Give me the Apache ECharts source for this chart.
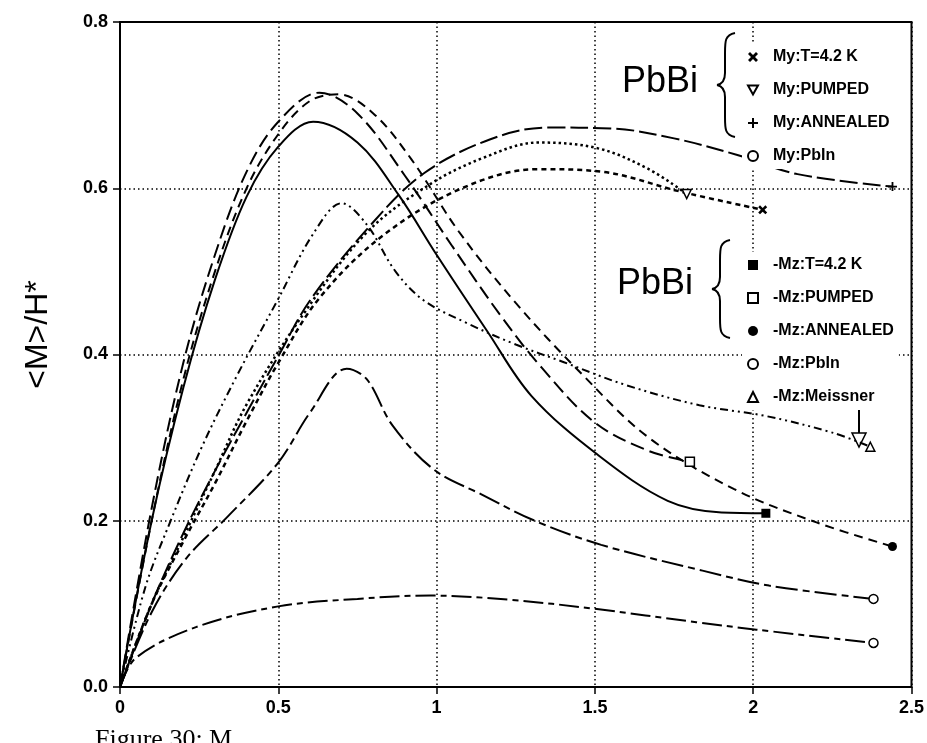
<!DOCTYPE html>
<html>
<head>
<meta charset="utf-8">
<title>PbBi magnetization</title>
<script src="https://cdn.jsdelivr.net/npm/echarts@6/dist/echarts.min.js"></script>
<style>
    html, body { margin: 0; padding: 0; background: #fff; }
    #main { width: 927px; height: 743px; }
</style>
</head>
<body>
<div id="main"></div>
<script>
    // tick labels
    var xTickLabels = {'0': '0', '0.5': '0.5', '1': '1', '1.5': '1.5', '2': '2', '2.5': '2.5'};
    var yTickLabels = {'0': '0.0', '0.2': '0.2', '0.4': '0.4', '0.6': '0.6', '0.8': '0.8'};

    // My curves
    var myT42 = [[0,0],[0.1,0.1],[0.2,0.175],[0.3,0.245],[0.4,0.32],[0.5,0.39],[0.63,0.468],[0.83,0.543],[1.08,0.6],[1.32,0.623],[1.52,0.62],[1.77,0.596],[2.03,0.574]];
    var myPumped = [[0,0],[0.1,0.1],[0.2,0.18],[0.3,0.26],[0.4,0.34],[0.58,0.449],[0.78,0.547],[0.98,0.605],[1.15,0.637],[1.32,0.655],[1.51,0.648],[1.67,0.623],[1.79,0.593]];
    var myAnnealed = [[0,0],[0.1,0.1],[0.2,0.185],[0.3,0.26],[0.4,0.33],[0.5,0.398],[0.6,0.465],[0.79,0.555],[0.96,0.618],[1.17,0.659],[1.35,0.673],[1.55,0.672],[1.75,0.66],[1.95,0.64],[2.14,0.617],[2.44,0.602]];
    var myPbIn = [[0,0],[0.05,0.035],[0.24,0.072],[0.5,0.097],[0.75,0.106],[0.98,0.11],[1.23,0.105],[1.5,0.094],[1.82,0.078],[2.01,0.069],[2.38,0.053]];

    // -Mz curves
    var mzT42 = [[0,0],[0.1,0.2],[0.2,0.36],[0.3,0.49],[0.4,0.59],[0.5,0.65],[0.61,0.68],[0.75,0.655],[0.88,0.592],[1.0,0.52],[1.16,0.428],[1.3,0.35],[1.51,0.279],[1.73,0.224],[1.9,0.21],[2.04,0.209]];
    var mzPumped = [[0,0],[0.1,0.215],[0.2,0.39],[0.3,0.52],[0.4,0.62],[0.5,0.68],[0.63,0.715],[0.75,0.69],[0.9,0.615],[1.05,0.53],[1.2,0.448],[1.33,0.385],[1.5,0.318],[1.67,0.284],[1.8,0.271]];
    var mzAnnealed = [[0,0],[0.1,0.2],[0.2,0.37],[0.3,0.5],[0.4,0.6],[0.5,0.665],[0.6,0.705],[0.69,0.713],[0.8,0.69],[0.92,0.635],[1.07,0.548],[1.25,0.462],[1.46,0.376],[1.67,0.3],[1.94,0.238],[2.2,0.198],[2.44,0.169]];
    var mzPbIn = [[0,0],[0.1,0.09],[0.21,0.155],[0.34,0.205],[0.5,0.27],[0.6,0.33],[0.716,0.383],[0.78,0.37],[0.86,0.315],[0.99,0.262],[1.14,0.232],[1.31,0.2],[1.52,0.171],[1.84,0.14],[2.05,0.122],[2.38,0.106]];
    var mzMeissner = [[0,0],[0.08,0.12],[0.16,0.2],[0.26,0.29],[0.37,0.375],[0.5,0.467],[0.61,0.545],[0.7,0.582],[0.78,0.556],[0.87,0.5],[0.96,0.465],[1.1,0.437],[1.25,0.412],[1.4,0.391],[1.6,0.363],[1.83,0.339],[2.04,0.326],[2.25,0.306],[2.37,0.289]];

    // marker shapes
    var crossX = 'path://M2,0L5,3L8,0L10,2L7,5L10,8L8,10L5,7L2,10L0,8L3,5L0,2Z';
    var plusMark = 'path://M4,0H6V4H10V6H6V10H4V6H0V4H4Z';
    var triDown = 'path://M0,0L10,0L5,9Z';

    // one curve, symbol only on its last point
    function makeCurve(name, pts, dash, sym, open, width) {
        var d = pts.map(function (p) { return p.slice(); });
        var last = d.pop();
        d.push({value: last, symbol: sym, symbolSize: 9});
        return {
            name: name,
            type: 'line',
            data: d,
            smooth: 0.35,
            symbol: 'none',
            showSymbol: true,
            lineStyle: {color: '#000', width: width || 2, type: dash},
            itemStyle: open ? {color: '#fff', borderColor: '#000', borderWidth: 1.5} : {color: '#000'},
            z: 3
        };
    }

    // curly brace made of bezier pieces, h = height
    function makeBrace(x, y, h) {
        var m = h / 2;
        var st = {fill: 'none', stroke: '#000', lineWidth: 2};
        return {
            type: 'group', x: x, y: y,
            children: [
                {type: 'bezierCurve', shape: {x1: 18, y1: 0, cpx1: 8, cpy1: 2, cpx2: 8, cpy2: 8, x2: 8, y2: 20}, style: st},
                {type: 'line', shape: {x1: 8, y1: 20, x2: 8, y2: m - 12}, style: st},
                {type: 'bezierCurve', shape: {x1: 8, y1: m - 12, cpx1: 8, cpy1: m - 4, cpx2: 5, cpy2: m - 1, x2: 0, y2: m}, style: st},
                {type: 'bezierCurve', shape: {x1: 0, y1: m, cpx1: 5, cpy1: m + 1, cpx2: 8, cpy2: m + 4, x2: 8, y2: m + 12}, style: st},
                {type: 'line', shape: {x1: 8, y1: m + 12, x2: 8, y2: h - 20}, style: st},
                {type: 'bezierCurve', shape: {x1: 8, y1: h - 20, cpx1: 8, cpy1: h - 8, cpx2: 8, cpy2: h - 2, x2: 18, y2: h}, style: st}
            ]
        };
    }

    var seriesList = [
        makeCurve('My:T=4.2 K', myT42, [5, 4], crossX, false, 2.5),
        makeCurve('My:PUMPED', myPumped, [2.5, 3], triDown, true, 2.5),
        makeCurve('My:ANNEALED', myAnnealed, [18, 5], plusMark, false),
        makeCurve('My:PbIn', myPbIn, [20, 5, 6, 5], 'circle', true),
        makeCurve('-Mz:T=4.2 K', mzT42, 'solid', 'rect', false),
        makeCurve('-Mz:PUMPED', mzPumped, [14, 6], 'rect', true),
        makeCurve('-Mz:ANNEALED', mzAnnealed, [9, 6], 'circle', false),
        makeCurve('-Mz:PbIn', mzPbIn, [22, 5, 7, 5], 'circle', true),
        makeCurve('-Mz:Meissner', mzMeissner, [8, 4, 2, 4, 2, 4], 'triangle', true)
    ];

    var legendText = {color: '#000', fontSize: 16, fontWeight: 'bold', fontFamily: 'Liberation Sans', lineHeight: 16, padding: [0, 0, 0, 10]};
    var yName = '\u003cM\u003e/H*';

    var chart = echarts.init(document.getElementById('main'));
    chart.setOption({
        animation: false,
        backgroundColor: '#fff',
        grid: {left: 120, right: 10, top: 22, bottom: 56, show: true, borderColor: '#000', borderWidth: 2},
        xAxis: {
            type: 'value', min: 0, max: 2.5, interval: 0.5,
            axisLine: {lineStyle: {color: '#000', width: 2}},
            axisTick: {show: true, length: 7, lineStyle: {color: '#000', width: 1.5}},
            axisLabel: {color: '#000', fontSize: 18, fontWeight: 'bold', fontFamily: 'Liberation Sans', margin: 12,
                formatter: function (v) { return xTickLabels[String(v)]; }},
            splitLine: {show: true, lineStyle: {color: '#000', width: 1.5, type: [1.5, 3]}}
        },
        yAxis: {
            type: 'value', min: 0, max: 0.8, interval: 0.2,
            name: yName, nameLocation: 'middle', nameGap: 66, nameRotate: 90,
            nameTextStyle: {color: '#000', fontSize: 32, fontFamily: 'Liberation Sans', padding: [0, 0, 0, 40]},
            axisLine: {lineStyle: {color: '#000', width: 2}},
            axisTick: {show: true, length: 7, lineStyle: {color: '#000', width: 1.5}},
            axisLabel: {color: '#000', fontSize: 18, fontWeight: 'bold', fontFamily: 'Liberation Sans', margin: 12,
                formatter: function (v) { return yTickLabels[String(Math.round(v * 10) / 10)]; }},
            splitLine: {show: true, lineStyle: {color: '#000', width: 1.5, type: [1.5, 3]}}
        },
        legend: [{
            orient: 'vertical', left: 742, top: 44, itemGap: 17, itemWidth: 10, itemHeight: 10,
            backgroundColor: '#fff', textStyle: legendText,
            data: [
                {name: 'My:T=4.2 K', icon: crossX},
                {name: 'My:PUMPED', icon: triDown},
                {name: 'My:ANNEALED', icon: plusMark},
                {name: 'My:PbIn', icon: 'circle'}
            ]
        }, {
            orient: 'vertical', left: 742, top: 252, itemGap: 17, itemWidth: 10, itemHeight: 10,
            backgroundColor: '#fff', textStyle: legendText,
            data: [
                {name: '-Mz:T=4.2 K', icon: 'rect'},
                {name: '-Mz:PUMPED', icon: 'rect'},
                {name: '-Mz:ANNEALED', icon: 'circle'},
                {name: '-Mz:PbIn', icon: 'circle'},
                {name: '-Mz:Meissner', icon: 'triangle'}
            ]
        }],
        graphic: [
            {type: 'text', left: 622, top: 64, style: {text: 'PbBi', fontSize: 36, fontFamily: 'Liberation Sans', fill: '#000'}},
            {type: 'text', left: 617, top: 266, style: {text: 'PbBi', fontSize: 36, fontFamily: 'Liberation Sans', fill: '#000'}},
            makeBrace(717, 33, 104),
            makeBrace(712, 240, 98),
            {type: 'line', shape: {x1: 859, y1: 409, x2: 859, y2: 433}, style: {stroke: '#000', lineWidth: 2}},
            {type: 'polygon', shape: {points: [[852, 433], [866, 433], [859, 447]]}, style: {fill: '#fff', stroke: '#000', lineWidth: 1.5}},
            {type: 'text', left: 95, top: 727, style: {text: 'Figure 30: M', fontSize: 26, fontFamily: 'Liberation Serif', fill: '#000'}}
        ],
        series: seriesList
    });
</script>
</body>
</html>
